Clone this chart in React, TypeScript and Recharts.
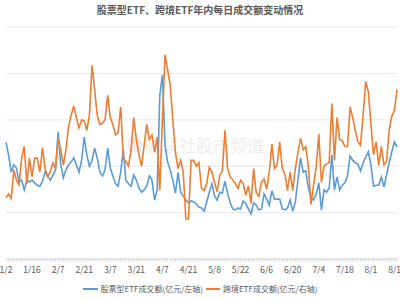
import React from "react";
import { LineChart, Line, XAxis, YAxis, CartesianGrid } from "recharts";

const FONT = '"Noto Sans CJK SC", "Noto Sans", sans-serif';

// 2025 A-share trading days, 1/2 – 8/15
const dates = [
  "1/2", "1/3", "1/6", "1/7", "1/8", "1/9", "1/10", "1/13", "1/14", "1/15",
  "1/16", "1/17", "1/20", "1/21", "1/22", "1/23", "1/24", "1/27", "2/5", "2/6",
  "2/7", "2/10", "2/11", "2/12", "2/13", "2/14", "2/17", "2/18", "2/19", "2/20",
  "2/21", "2/24", "2/25", "2/26", "2/27", "2/28", "3/3", "3/4", "3/5", "3/6",
  "3/7", "3/10", "3/11", "3/12", "3/13", "3/14", "3/17", "3/18", "3/19", "3/20",
  "3/21", "3/24", "3/25", "3/26", "3/27", "3/28", "3/31", "4/1", "4/2", "4/3",
  "4/7", "4/8", "4/9", "4/10", "4/11", "4/14", "4/15", "4/16", "4/17", "4/18",
  "4/21", "4/22", "4/23", "4/24", "4/25", "4/28", "4/29", "4/30", "5/6", "5/7",
  "5/8", "5/9", "5/12", "5/13", "5/14", "5/15", "5/16", "5/19", "5/20", "5/21",
  "5/22", "5/23", "5/26", "5/27", "5/28", "5/29", "5/30", "6/3", "6/4", "6/5",
  "6/6", "6/9", "6/10", "6/11", "6/12", "6/13", "6/16", "6/17", "6/18", "6/19",
  "6/20", "6/23", "6/24", "6/25", "6/26", "6/27", "6/30", "7/1", "7/2", "7/3",
  "7/4", "7/7", "7/8", "7/9", "7/10", "7/11", "7/14", "7/15", "7/16", "7/17",
  "7/18", "7/21", "7/22", "7/23", "7/24", "7/25", "7/28", "7/29", "7/30", "7/31",
  "8/1", "8/4", "8/5", "8/6", "8/7", "8/8", "8/11", "8/12", "8/13", "8/14",
  "8/15",
];

// 股票型ETF成交额 (亿元, left axis)
const stockEtf = [
  2520, 2240, 1870, 2030, 1960, 1660, 1700, 1490, 1700, 1660,
  1700, 1640, 1590, 1570, 1680, 1870, 1790, 1700, 1810, 1920,
  2740, 2030, 1750, 1920, 2030, 2090, 2180, 2030, 1870, 2130,
  2630, 2240, 2000, 2130, 2390, 2180, 1870, 1790, 1920, 2390,
  1960, 1790, 1620, 1570, 1870, 2350, 1700, 1620, 1570, 1810,
  1700, 1530, 1440, 1490, 1570, 1790, 1700, 1270, 1490, 3530,
  3970, 2460, 2090, 1920, 1700, 1420, 1870, 1440, 1360, 1270,
  1210, 1250, 1230, 1190, 1120, 1100, 1030, 1230, 1440, 1620,
  1360, 1270, 1440, 1420, 1680, 1420, 1210, 1080, 1060, 1100,
  1080, 1250, 1190, 1080, 970, 1210, 1160, 1060, 1080, 1400,
  1290, 1160, 1470, 1290, 1290, 1290, 1080, 1060, 1100, 1270,
  1030, 1230, 1700, 2180, 1870, 1900, 1530, 1340, 1270, 1400,
  1640, 1060, 1490, 1440, 1530, 2240, 1490, 1770, 1490, 1590,
  1640, 1790, 2220, 2130, 2070, 2050, 1900, 2070, 2200, 2310,
  2030, 1570, 1590, 1590, 1770, 1550, 1810, 2070, 2310, 2520,
  2410,
];

// 跨境ETF成交额 (亿元, right axis)
const crossEtf = [
  530, 560, 520, 770, 680, 640, 870, 970, 650, 870,
  710, 870, 870, 750, 960, 780, 710, 750, 830, 780,
  1050, 940, 810, 940, 1140, 1240, 1320, 1220, 1130, 1200,
  1190, 1110, 1240, 1670, 1460, 1240, 1160, 1170, 1200, 1410,
  1220, 1160, 1070, 1090, 1310, 870, 840, 800, 940, 1220,
  1030, 900, 800, 980, 1160, 1030, 1070, 920, 1050, 590,
  1200, 1760, 1630, 1500, 1200, 920, 780, 850, 750, 345,
  345, 850, 850, 800, 830, 610, 590, 650, 790, 750,
  660, 580, 720, 760, 1110, 780, 710, 680, 650, 610,
  680, 650, 550, 630, 480, 780, 570, 540, 660, 690,
  600, 750, 990, 780, 810, 1010, 780, 730, 590, 750,
  590, 780, 920, 1040, 940, 970, 800, 470, 640, 790,
  1080, 660, 800, 820, 830, 1340, 850, 1220, 1030, 1020,
  970, 970, 1310, 1220, 1110, 1010, 980, 1240, 1530, 1440,
  1160, 900, 1010, 810, 970, 810, 840, 1110, 1230, 1280,
  1460,
];

const leftTicks = [0, 1000, 2000, 3000, 4000, 5000];
const rightTicks = [0, 400, 800, 1200, 1600, 2000];

const data = dates.map((d, i) => ({ date: d, stock: stockEtf[i], cross: crossEtf[i] }));

function DateTick(props: any) {
  const { x, y, index, payload } = props;
  const i = index ?? payload?.index ?? 0;
  return (
    <g>
      <line x1={x} x2={x} y1={y} y2={y + 3} stroke="#d9d9d9" strokeWidth={1} />
      {i % 10 === 0 && (
        <text x={x} y={y + 14} textAnchor="middle" fontSize={8.5} fill="#595959" fontFamily={FONT}>
          {payload.value}
        </text>
      )}
    </g>
  );
}

export default function App() {
  return (
    <div
      style={{
        position: "fixed",
        left: 0,
        top: 0,
        width: 400,
        height: 300,
        overflow: "hidden",
        background: "#fff",
        fontFamily: FONT,
      }}
    >
      {/* watermark */}
      <div
        style={{
          position: "absolute",
          left: 128,
          top: 138,
          width: 14,
          height: 14,
          borderRadius: 3,
          background: "rgba(230,90,90,0.12)",
        }}
      />
      <div
        style={{
          position: "absolute",
          left: 145,
          top: 133,
          fontSize: 17,
          lineHeight: "24px",
          color: "rgba(170,170,170,0.22)",
          whiteSpace: "nowrap",
        }}
      >
        财联社股市频道
      </div>

      <div
        style={{
          position: "absolute",
          left: 0,
          top: 3,
          width: 400,
          textAlign: "center",
          fontSize: 10,
          lineHeight: "14px",
          fontWeight: 700,
          color: "#595959",
        }}
      >
        股票型ETF、跨境ETF年内每日成交额变动情况
      </div>

      <div style={{ position: "absolute", left: 0, top: 0 }}>
        <LineChart
          width={400}
          height={300}
          data={data}
          margin={{ top: 27, right: 3, left: 6, bottom: 21 }}
        >
          <CartesianGrid yAxisId="left" horizontal vertical={false} stroke="#e8e8e8" />
          <XAxis
            dataKey="date"
            interval={0}
            height={20}
            tickSize={0}
            tickMargin={0}
            tickLine={false}
            axisLine={{ stroke: "#d9d9d9" }}
            tick={DateTick}
          />
          <YAxis yAxisId="left" hide domain={[0, 5000]} ticks={leftTicks} />
          <YAxis yAxisId="right" orientation="right" hide domain={[0, 2000]} ticks={rightTicks} />
          <Line
            yAxisId="left"
            type="linear"
            dataKey="stock"
            stroke="#5b9bd5"
            strokeWidth={1.6}
            dot={false}
            isAnimationActive={false}
          />
          <Line
            yAxisId="right"
            type="linear"
            dataKey="cross"
            stroke="#ed7d31"
            strokeWidth={1.6}
            dot={false}
            isAnimationActive={false}
          />
        </LineChart>
      </div>

      <div
        style={{
          position: "absolute",
          left: 0,
          top: 282,
          width: 400,
          display: "flex",
          justifyContent: "center",
          alignItems: "center",
          fontSize: 8,
          lineHeight: "14px",
          color: "#595959",
          whiteSpace: "nowrap",
        }}
      >
        <span style={{ display: "inline-block", width: 15, height: 2, background: "#5b9bd5", marginRight: 3 }} />
        <span>股票型ETF成交额(亿元/左轴)</span>
        <span
          style={{ display: "inline-block", width: 14, height: 2, background: "#ed7d31", marginLeft: 3, marginRight: 3 }}
        />
        <span>跨境ETF成交额(亿元/右轴)</span>
      </div>
    </div>
  );
}
